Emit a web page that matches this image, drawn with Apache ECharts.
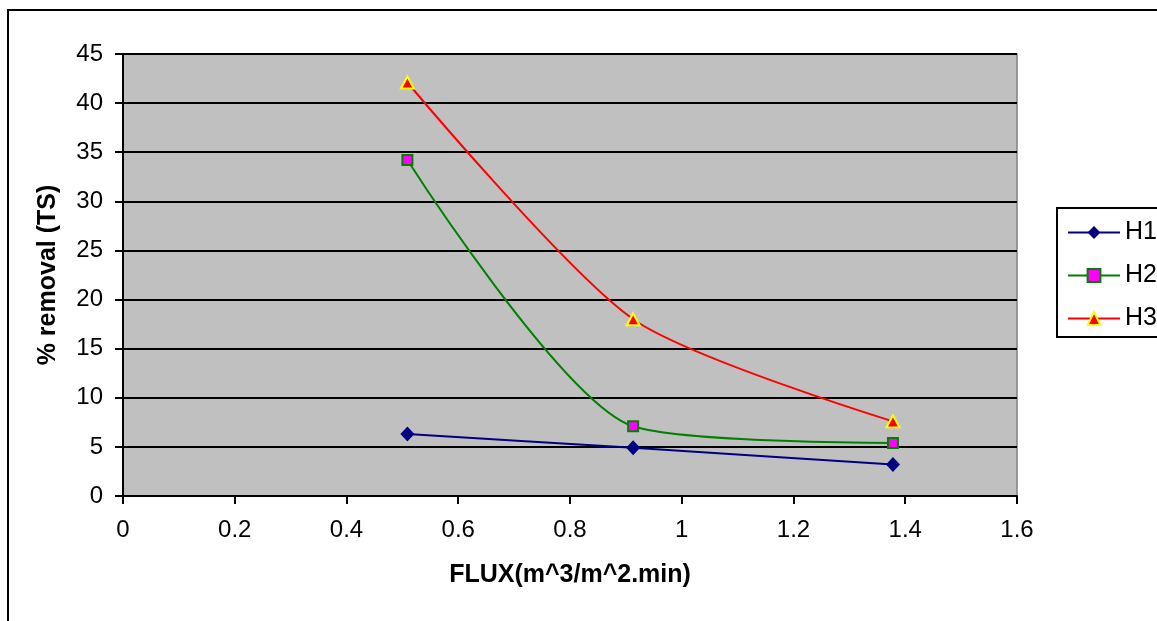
<!DOCTYPE html>
<html>
<head>
<meta charset="utf-8">
<script src="https://cdn.jsdelivr.net/npm/echarts@6/dist/echarts.min.js"></script>
<style>
html,body{margin:0;padding:0;background:#fff;}
#chart{width:1157px;height:621px;}
</style>
</head>
<body>
<div id="chart"></div>
<script>
const seriesNames = ['H1', 'H2', 'H3'];
const flux = [0.509, 0.913, 1.378];
const h1 = [6.3, 4.9, 3.2];
const h2 = [34.2, 7.1, 5.4];
const h3 = [42.1, 18.0, 7.6];
const xTitle = 'FLUX(m^3/m^2.min)';
const yTitle = '% removal (TS)';

const pairs = (ys) => flux.map((x, i) => [x, ys[i]]);
const font = 'Liberation Sans, Arial, sans-serif';

const chart = echarts.init(document.getElementById('chart'), null, {renderer: 'canvas'});
chart.setOption({
  animation: false,
  backgroundColor: '#fff',
  textStyle: {fontFamily: font},
  graphic: [{
    type: 'rect', z: 100, silent: true,
    shape: {x: 8, y: 10, width: 1300, height: 800},
    style: {fill: 'none', stroke: '#000', lineWidth: 2}
  }],
  grid: {
    left: 123, top: 54, right: 140, bottom: 125,
    show: true, backgroundColor: '#C0C0C0', borderColor: '#808080', borderWidth: 1.5
  },
  legend: {
    orient: 'vertical', left: 1057, top: 208,
    data: seriesNames,
    borderColor: '#000', borderWidth: 2,
    padding: [12, 20, 6, 10],
    itemWidth: 52, itemHeight: 16, itemGap: 18,
    textStyle: {fontFamily: font, fontSize: 25, color: '#000', lineHeight: 25}
  },
  xAxis: {
    type: 'value', min: 0, max: 1.6, interval: 0.2,
    name: xTitle, nameLocation: 'middle', nameGap: 67,
    nameTextStyle: {fontFamily: font, fontSize: 25, fontWeight: 'bold', color: '#000'},
    axisLine: {show: true, lineStyle: {color: '#000', width: 2}},
    axisTick: {show: true, inside: false, length: 8, lineStyle: {color: '#000', width: 2}},
    axisLabel: {fontFamily: font, fontSize: 24, color: '#000', margin: 22},
    splitLine: {show: false}
  },
  yAxis: {
    type: 'value', min: 0, max: 45, interval: 5,
    name: yTitle, nameLocation: 'middle', nameGap: 62, nameRotate: 90,
    nameTextStyle: {fontFamily: font, fontSize: 25, fontWeight: 'bold', color: '#000'},
    axisLine: {show: true, lineStyle: {color: '#000', width: 2}},
    axisTick: {show: true, inside: false, length: 8, lineStyle: {color: '#000', width: 2}},
    axisLabel: {fontFamily: font, fontSize: 24, color: '#000', margin: 20},
    splitLine: {show: true, lineStyle: {color: '#000', width: 2}}
  },
  series: [
    {
      name: 'H1', type: 'line', data: pairs(h1), smooth: 0.25,
      symbol: 'diamond', symbolSize: [14, 15],
      lineStyle: {color: '#000080', width: 2},
      itemStyle: {color: '#000080', borderColor: '#000080', borderWidth: 0}
    },
    {
      name: 'H2', type: 'line', data: pairs(h2), smooth: 0.25,
      symbol: 'rect', symbolSize: 10,
      lineStyle: {color: '#008000', width: 2},
      itemStyle: {color: '#FF00FF', borderColor: '#008000', borderWidth: 2}
    },
    {
      name: 'H3', type: 'line', data: pairs(h3), smooth: 0.25,
      symbol: 'triangle', symbolSize: [13, 12],
      lineStyle: {color: '#FF0000', width: 2},
      itemStyle: {color: '#FF0000', borderColor: '#FFFF00', borderWidth: 2}
    }
  ]
});
</script>
</body>
</html>
